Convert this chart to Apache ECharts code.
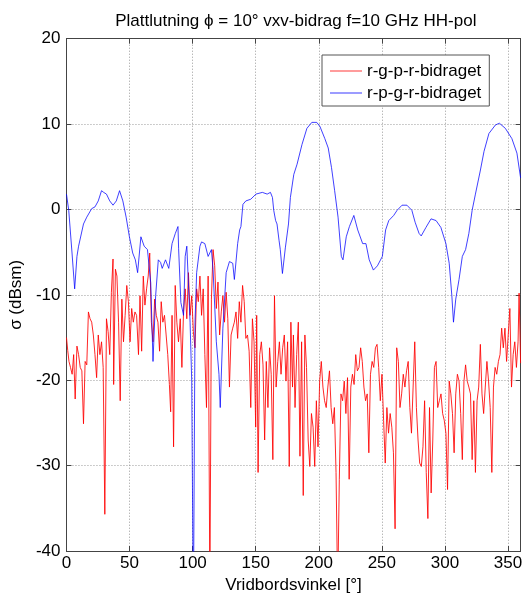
<!DOCTYPE html>
<html>
<head>
<meta charset="utf-8">
<script src="https://cdn.jsdelivr.net/npm/echarts@6/dist/echarts.min.js"></script>
<style>
  html, body { margin: 0; padding: 0; background: #fff; }
  #chart { width: 525px; height: 599px; }
</style>
</head>
<body>
<div id="chart"></div>
<script>
// Turntable angle sweep: two scattering contributions (dBsm) versus angle (degrees)
const titleText = 'Plattlutning \u03d5 = 10\u00b0 vxv-bidrag f=10 GHz HH-pol';
const xName = 'Vridbordsvinkel [\u00b0]';
const yName = '\u03c3 (dBsm)';
const seriesNames = ['r-g-p-r-bidraget', 'r-p-g-r-bidraget'];
const xTicks = [0, 50, 100, 150, 200, 250, 300, 350];
const yTicks = [-40, -30, -20, -10, 0, 10, 20];

// r-g-p-r contribution: [angle, dBsm]
const rgprTrace = [
  [0,-15],[1,-16.5],[2,-17.8],[3.2,-18.5],[4.5,-19.3],[5.7,-17],[6.9,-22.2],[8.3,-16],[9.6,-17],[10.9,-18.5],
  [12.2,-18.9],[13.5,-25.1],[14.8,-17.8],[16.1,-18.2],[17.4,-12],[18.7,-12.8],[20,-13.2],[21.3,-14.7],[22.6,-17],[23.9,-19.7],
  [25.2,-14.7],[26.5,-17],[27.8,-15.5],[29.1,-18.5],[30.4,-35.7],[31.7,-12.8],[33,-14.3],[34.3,-17],[35.6,-9.7],[36.9,-5.8],
  [37.4,-20.5],[38.8,-7],[40,-7.8],[41.3,-13.2],[42.6,-22.4],[43.9,-10.5],[45.2,-15.5],[46.5,-12.4],[47.8,-8.9],[49.1,-10.8],
  [50.4,-15.5],[51.7,-11.6],[53,-13.2],[54.3,-12],[55.6,-12.4],[57.1,-17],[58.3,-10.1],[59.6,-16.6],[60.9,-7.8],[62.2,-11.2],
  [63.5,-9.3],[64.8,-7.8],[66,-5.1],[67.3,-13.2],[68.6,-15.5],[69.9,-10.5],[71.2,-12.4],[72.5,-13.2],[73.8,-16.6],[75.1,-10.8],
  [76.4,-13.2],[77.7,-12.4],[79,-14.7],[80.3,-17],[81.6,-20.5],[82.6,-23.7],[83.7,-12.4],[84.9,-27.8],[86.2,-8.9],[87.5,-13.2],
  [88.8,-15.5],[90.2,-12.8],[91.5,-18.5],[92.8,-12],[94.1,-9.3],[95.4,-12.8],[96.7,-7.4],[98,-12.4],[99.3,-10.1],[100.6,-14.3],
  [101.9,-16.2],[103.2,-9.3],[104.5,-10.8],[105.8,-7.8],[107.1,-12.4],[108.4,-9.3],[109.7,-17],[111,-23.2],[112.3,-7.8],[113.7,-45],
  [114.9,-10.5],[116.2,-4.7],[117.5,-6.6],[118.8,-11.6],[120.1,-8.5],[121.4,-14.7],[122.7,-12],[124,-10.1],[125.3,-13.2],[126.6,-9.7],
  [127.9,-12.8],[129.2,-20.8],[130.5,-14.7],[131.8,-13.9],[133.1,-13.2],[134.4,-12],[135.7,-15.1],[137,-10.8],[138.3,-13.2],[139.6,-8.9],
  [140.9,-10.8],[142.2,-15.1],[143.5,-14.7],[144.8,-16.6],[146.1,-23.2],[147.4,-12.8],[148.7,-15.5],[150,-25.5],[150.8,-12.4],[151.9,-30.8],
  [153.2,-17],[154.5,-15.5],[155.8,-18.2],[157.1,-27],[158.4,-17.8],[159.7,-23.2],[161,-16.2],[162.3,-19.3],[163.6,-29.3],[164.9,-10.1],
  [166.2,-20.8],[167.5,-17.8],[168.8,-15.5],[170.1,-19.3],[171.4,-16.2],[172.7,-14.7],[174,-20.1],[175.3,-15.5],[176.6,-30.1],[177.9,-13.2],
  [179.2,-20.8],[179.9,-14.7],[181.2,-23.2],[182.5,-17],[183.8,-13.2],[185.1,-28.9],[186.4,-15.5],[187.7,-33.5],[189,-14.7],[190.3,-18.5],
  [191.6,-27],[192.9,-30.1],[194.2,-23.9],[195.5,-25.5],[196.8,-30.1],[198.1,-22.4],[199.4,-27.8],[200.7,-20.1],[202,-17.8],[203.3,-20.8],
  [204.6,-22.4],[205.9,-23.2],[207.2,-20.8],[208.5,-18.9],[209.8,-23.2],[211.1,-25.1],[212.4,-23.2],[213.7,-30.8],[215,-45],[216.3,-31.6],
  [217.6,-21.6],[218.9,-22.4],[220.2,-20.1],[221.5,-23.9],[222.8,-19.7],[224.1,-31.6],[225.4,-20.8],[226.7,-19.3],[228,-20.5],[229.3,-17],
  [230.6,-18.9],[231.9,-18.5],[233.2,-16.2],[234.5,-17.8],[235.8,-20.8],[237.1,-22.4],[238.4,-21.6],[239.7,-28.5],[241,-19.3],[242.3,-17.8],
  [243.6,-18.5],[244.9,-16.2],[246.2,-15.8],[247.5,-18.5],[248.8,-22.4],[250.1,-19.3],[251.4,-24.7],[252.7,-29.7],[254,-23.2],[255.3,-26.2],
  [256.6,-23.9],[257.9,-25.5],[259.2,-28.5],[260.5,-37.4],[261.8,-16.2],[263.1,-17.8],[264.4,-23.2],[265.7,-21.6],[267,-19.3],[268.3,-20.8],
  [269.6,-18.9],[270.9,-17.8],[272.2,-23.2],[273.5,-26.2],[274.8,-20.8],[276.1,-15.5],[277.4,-23.2],[278.7,-27],[280,-29.7],[281.3,-30.1],
  [282.6,-27.8],[283.9,-22.4],[285.2,-30.8],[286.5,-36.2],[287.8,-23.2],[289.1,-33.2],[290.4,-27],[291.7,-18.5],[293,-17.8],[294.3,-23.2],
  [295.6,-22.4],[296.9,-21.6],[298.2,-23.9],[299.5,-24.7],[300.8,-26.2],[302.1,-32.8],[303.4,-20.1],[304.7,-21.6],[306,-23.9],[307.3,-28.5],
  [308.6,-21.6],[309.9,-19.3],[311.2,-20.1],[312.5,-23.9],[313.8,-29.3],[315.1,-20.1],[316.4,-18.2],[317.7,-20.1],[319,-20.8],[320.3,-21.6],
  [321.6,-29.3],[322.9,-22.4],[324.2,-30.8],[325.5,-22.4],[326.8,-20.8],[328.1,-15.8],[329.4,-21.6],[330.7,-23.9],[332,-20.8],[333.3,-17.8],
  [334.6,-20.1],[335.9,-23.2],[337.2,-30.8],[338.5,-20.8],[339.8,-18.5],[341.1,-19.3],[342.4,-17.8],[343.7,-17],[345,-13.9],[346.3,-16.2],
  [347.6,-13.9],[348.9,-17.8],[350.2,-14.7],[351.5,-11.6],[352.8,-20.8],[354.1,-17],[355.4,-15.5],[356.7,-18.5],[358,-15.5],[358.8,-9.8],
  [360,-18]
];

// r-p-g-r contribution: [angle, dBsm]
const rpgrTrace = [
  [0,1.8],[1.8,-0.1],[4.4,-5.1],[6.5,-9.3],[8.3,-5.5],[9.6,-4.3],[10.9,-4.3],[13.5,-1.7],[16.1,-0.9],[20,0.1],
  [22.6,0.3],[25.2,1.0],[27.8,2.2],[29.5,2.0],[31.7,1.8],[34.3,1.0],[36.9,0.5],[39.5,1.0],[42.1,2.2],[44.7,1.0],
  [47.3,-0.9],[49.9,-3.2],[52.5,-5.1],[54.6,-5.9],[56.4,-7.4],[59,-3.2],[61.6,-4.3],[64.2,-4.7],[66.8,-8.6],[68.6,-17.8],
  [70.7,-10.1],[72.8,-5.9],[74.6,-6.2],[75.9,-6.9],[78.5,-5.9],[81.1,-6.9],[83.7,-4.0],[86.3,-2.8],[88.4,-2.0],[88.9,-4.6],
  [90.7,-10.9],[92.8,-12.4],[94.1,-5.5],[95.4,-4.3],[96.7,-4.3],[98,-13.2],[99.3,-20.1],[100.6,-48],[101.9,-13.2],[103.2,-7.4],
  [105.8,-4.3],[107.1,-3.8],[109.7,-4.0],[112.3,-5.5],[114.9,-4.7],[116.2,-7.0],[118.8,-15.5],[120.9,-19.3],[121.9,-23.2],[124,-13.9],
  [126.6,-7.4],[129.2,-6.1],[131.8,-6.3],[133.1,-8.2],[135.7,-4.0],[137.3,-2.4],[138.3,-2.0],[139.9,0.6],[142.2,1.0],[146.1,1.2],
  [150.2,1.8],[155.3,2.0],[159.1,1.8],[161.7,2.0],[163.3,1.4],[164.3,-0.1],[165.8,-1.3],[166.9,-1.7],[168.5,-3.6],[169.5,-4.7],
  [171.2,-7.5],[173.5,-4.5],[176,-1.7],[177.5,1.4],[180.2,4.1],[182.8,5.3],[186.7,7.6],[190.6,9.5],[194.5,10.2],[198.4,10.2],
  [201,9.7],[204.8,8.3],[207.5,7.2],[210.1,4.9],[212.6,2.2],[215.3,-0.9],[217.9,-5.5],[219.2,-5.9],[221.8,-3.2],[224.3,-2.0],
  [227.8,-0.7],[230.9,-2.4],[234.8,-4.0],[237.4,-4.0],[240,-5.9],[243.3,-7.1],[246.5,-6.6],[250.4,-5.5],[253,-2.4],[255.5,-1.3],
  [259.4,-0.7],[262.1,-0.1],[266,0.5],[269.9,0.5],[273.8,-0.1],[276.4,-1.5],[279.5,-2.8],[281.2,-3.1],[285,-2.1],[289,-1.1],
  [293,-1.3],[296.8,-2.1],[300.8,-4.0],[303.4,-6.3],[305.5,-10.1],[306.8,-13.2],[308.6,-10.5],[311.2,-8.2],[313.8,-5.5],[316.4,-4.7],
  [319,-2.8],[321.6,-0.1],[324.2,1.8],[328,4.5],[331,6.8],[334.9,8.9],[340.1,9.9],[343.2,10.1],[347.9,9.5],[353.1,8.3],
  [357.1,6.6],[360,3.7]
];

const FONT = '"Liberation Sans", Arial, Helvetica, sans-serif';
const chart = echarts.init(document.getElementById('chart'), null, { renderer: 'canvas' });

const gridDots = { show: true, lineStyle: { color: '#9a9a9a', width: 1, type: [1, 2] } };
const frameLine = { show: true, onZero: false, lineStyle: { color: '#444', width: 1 } };
const innerTick = { show: true, inside: true, length: 5, lineStyle: { color: '#444' } };

chart.setOption({
  animation: false,
  backgroundColor: '#fff',
  textStyle: { fontFamily: FONT },
  title: {
    text: titleText,
    left: 290.8, top: 8, textAlign: 'center',
    textStyle: { fontSize: 17, fontWeight: 'normal', color: '#000', fontFamily: FONT }
  },
  grid: { left: 60.7, right: 4, top: 38.7, bottom: 39.7, containLabel: false },
  legend: {
    orient: 'vertical',
    left: 322, top: 55,
    padding: [6, 8, 3, 8],
    icon: 'rect',
    itemWidth: 32, itemHeight: 2, itemGap: 2,
    backgroundColor: '#fff',
    borderColor: '#555', borderWidth: 1,
    textStyle: { fontSize: 17, color: '#000', fontFamily: FONT, lineHeight: 20 },
    data: [
      { name: seriesNames[0], itemStyle: { color: '#ff9c9c' } },
      { name: seriesNames[1], itemStyle: { color: '#9c9cff' } }
    ]
  },
  xAxis: [
    {
      type: 'value', min: 0, max: 360, interval: 50,
      name: xName, nameLocation: 'middle', nameGap: 26,
      nameTextStyle: { fontSize: 17, color: '#000', fontFamily: FONT },
      axisLine: frameLine, axisTick: innerTick,
      axisLabel: {
        fontSize: 17, color: '#000', margin: 4, fontFamily: FONT,
        formatter: v => (xTicks.indexOf(v) >= 0 ? String(v) : '')
      },
      splitLine: gridDots
    },
    {
      type: 'value', min: 0, max: 360, interval: 50, position: 'top',
      axisLine: frameLine, axisTick: innerTick, axisLabel: { show: false }, splitLine: { show: false }
    }
  ],
  yAxis: [
    {
      type: 'value', min: -40, max: 20, interval: 10,
      name: yName, nameLocation: 'middle', nameGap: 31, nameRotate: 90,
      nameTextStyle: { fontSize: 17, color: '#000', fontFamily: FONT },
      axisLine: frameLine, axisTick: innerTick,
      axisLabel: {
        fontSize: 17, color: '#000', margin: 6, fontFamily: FONT,
        formatter: v => (yTicks.indexOf(v) >= 0 ? String(v) : '')
      },
      splitLine: gridDots
    },
    {
      type: 'value', min: -40, max: 20, interval: 10, position: 'right',
      axisLine: frameLine, axisTick: innerTick, axisLabel: { show: false }, splitLine: { show: false }
    }
  ],
  series: [
    {
      name: seriesNames[0], type: 'line', data: rgprTrace,
      symbol: 'none', clip: true, z: 2,
      color: '#ff0000',
      lineStyle: { color: '#ff0000', width: 1, opacity: 0.85 }
    },
    {
      name: seriesNames[1], type: 'line', data: rpgrTrace,
      symbol: 'none', clip: true, z: 3,
      color: '#0000ff',
      lineStyle: { color: '#0000ff', width: 1, opacity: 0.75 }
    }
  ]
});
</script>
</body>
</html>
